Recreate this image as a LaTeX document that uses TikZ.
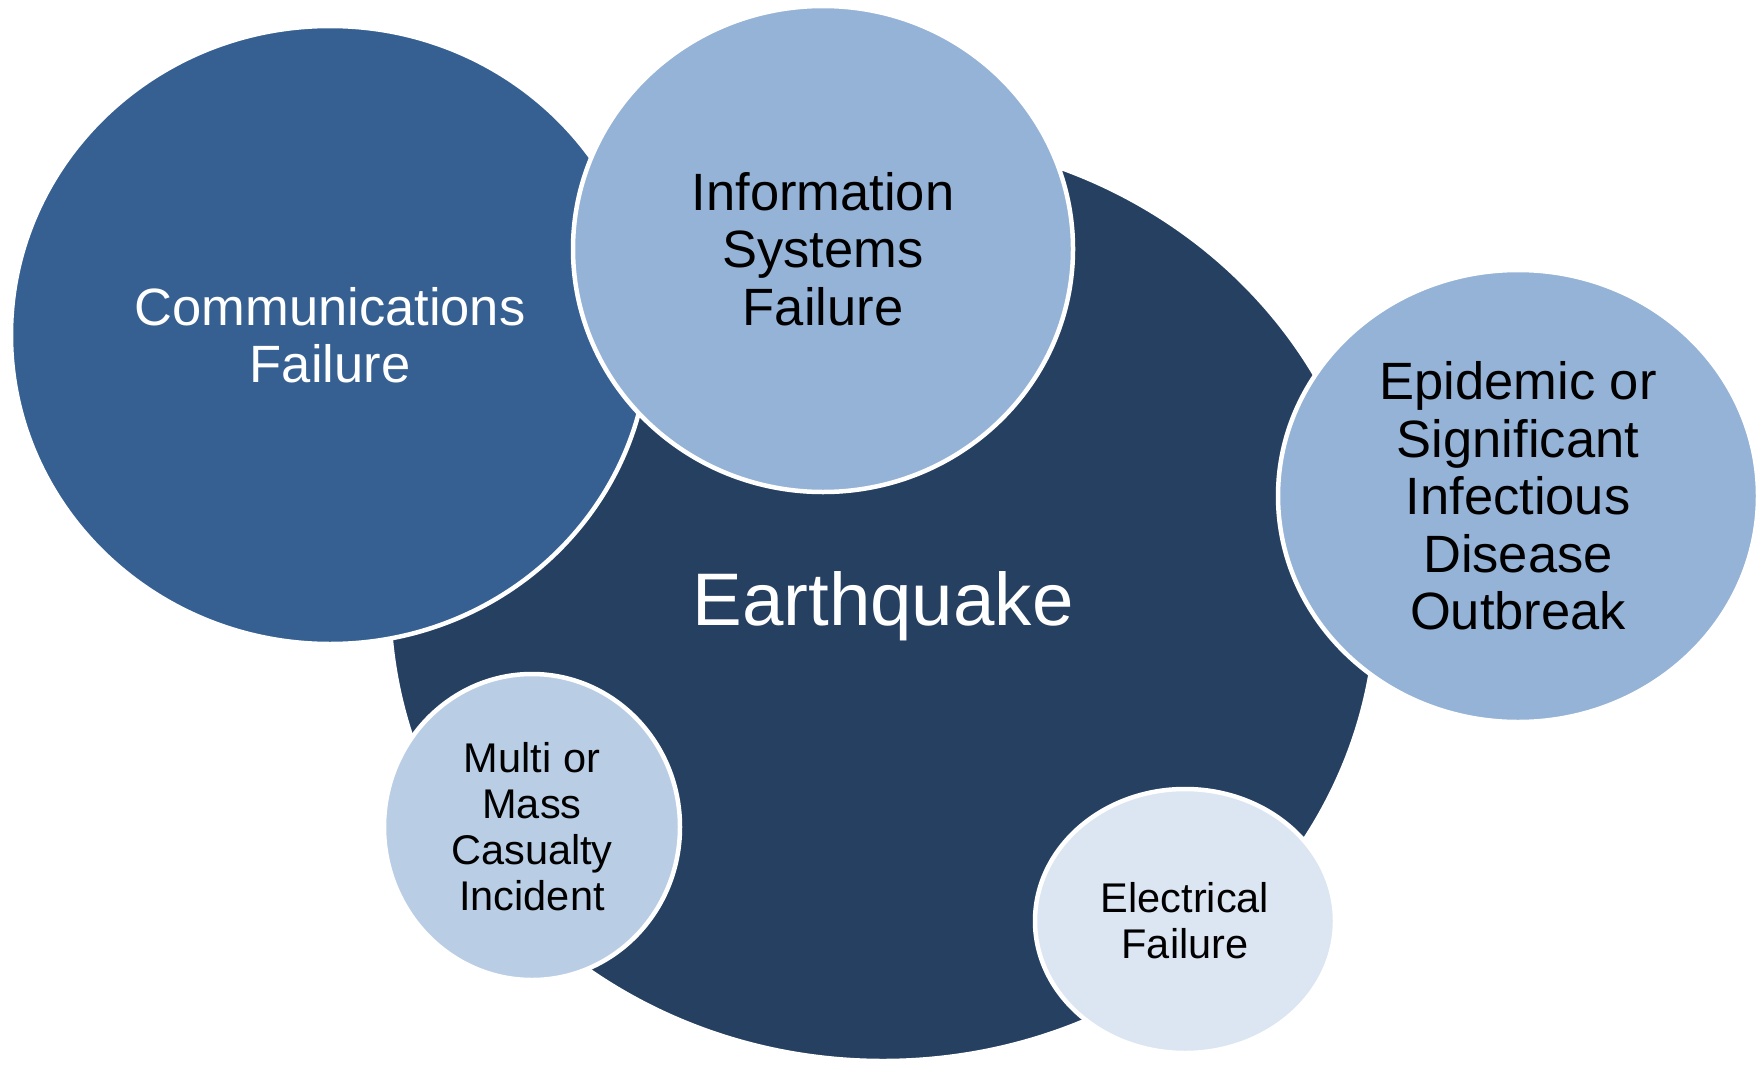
\documentclass[tikz,border=0pt]{standalone}
\usepackage{fontspec}
\setmainfont{Liberation Sans}
\usepackage{xcolor}
\usepackage{tikz}
\usetikzlibrary{shapes.geometric}

\definecolor{quakeblue}{HTML}{264061}
\definecolor{commsblue}{HTML}{366092}
\definecolor{midblue}{HTML}{95B3D7}
\definecolor{paleblue}{HTML}{B9CDE5}
\definecolor{mistblue}{HTML}{DCE6F2}

\begin{document}
\begin{tikzpicture}[
  x=1pt, y=-1pt,
  bubble/.style={ellipse, draw=white, line width=4.5pt, inner sep=0pt,
                 align=center, fill=#1},
  bigtext/.style={font=\fontsize{52.5}{57.5}\selectfont},
  smalltext/.style={font=\fontsize{41.5}{46}\selectfont}
]
  \useasboundingbox (0,0) rectangle (1764,1065);

  \node[bubble=quakeblue, minimum width=988, minimum height=924, text=white,
        text depth=0pt, font=\fontsize{74.5}{80}\selectfont] (quake) at (883,599) {Earthquake};
  \node[bubble=commsblue, minimum width=638, minimum height=618, text=white,
        bigtext] (comms) at (330,335) {Communications\\Failure};
  \node[bubble=midblue, minimum width=500, minimum height=486,
        bigtext] (infosys) at (823,249) {Information\\Systems\\Failure};
  \node[bubble=midblue, minimum width=480, minimum height=452,
        bigtext] (epidemic) at (1518,496) {Epidemic or\\Significant\\Infectious\\Disease\\Outbreak};
  \node[bubble=paleblue, minimum width=296, minimum height=306,
        smalltext] (casualty) at (532,827) {Multi or\\Mass\\Casualty\\Incident};
  \node[bubble=mistblue, minimum width=300, minimum height=264,
        smalltext] (electric) at (1185,921) {Electrical\\Failure};
\end{tikzpicture}
\end{document}
